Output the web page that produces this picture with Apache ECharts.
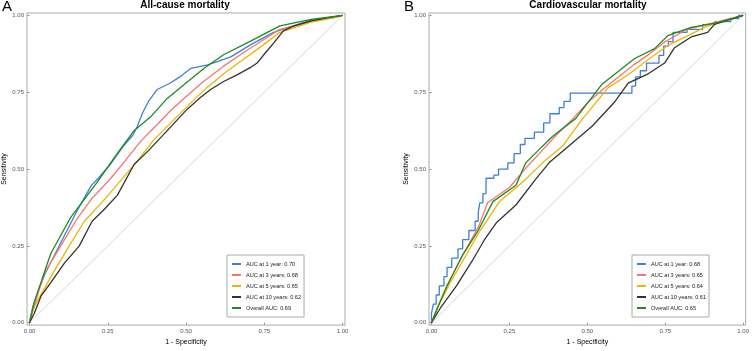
<!DOCTYPE html>
<html><head><meta charset="utf-8">
<script src="https://cdn.jsdelivr.net/npm/echarts@6/dist/echarts.min.js"></script>
<style>html,body{margin:0;padding:0;background:#fff}#c{width:752px;height:351px}</style>
</head><body><div id="c"></div>
<script>
// ---- Panel A: All-cause mortality (points are [1 - specificity, sensitivity]) ----
const panelATitle = 'All-cause mortality';
const panelANames = ['AUC at 1 year: 0.70','AUC at 3 years: 0.68','AUC at 5 years: 0.65','AUC at 10 years: 0.62','Overall AUC: 0.69'];
const a1y = [[0,0],[0.01,0.05],[0.03,0.11],[0.05,0.16],[0.1,0.26],[0.15,0.36],[0.197,0.446],[0.22,0.47],[0.261,0.519],[0.3,0.575],[0.33,0.61],[0.345,0.64],[0.36,0.68],[0.38,0.72],[0.408,0.759],[0.45,0.78],[0.48,0.80],[0.516,0.828],[0.569,0.839],[0.6,0.85],[0.643,0.865],[0.707,0.905],[0.78,0.945],[0.84,0.965],[0.9,0.985],[0.97,0.992],[1,1]];
const a3y = [[0,0],[0.02,0.07],[0.047,0.16],[0.1,0.25],[0.15,0.335],[0.2,0.405],[0.26,0.47],[0.3,0.52],[0.355,0.59],[0.408,0.645],[0.45,0.69],[0.5,0.735],[0.55,0.78],[0.62,0.835],[0.7,0.89],[0.8,0.955],[0.9,0.98],[0.96,0.992],[1,1]];
const a5y = [[0,0],[0.01,0.04],[0.03,0.08],[0.047,0.11],[0.08,0.17],[0.127,0.25],[0.175,0.33],[0.23,0.39],[0.281,0.45],[0.34,0.52],[0.397,0.595],[0.461,0.66],[0.53,0.73],[0.567,0.765],[0.62,0.81],[0.674,0.85],[0.748,0.905],[0.8,0.945],[0.9,0.978],[0.96,0.99],[1,1]];
const a10y = [[0,0],[0.015,0.03],[0.037,0.087],[0.068,0.13],[0.111,0.193],[0.159,0.25],[0.2,0.33],[0.24,0.37],[0.281,0.415],[0.334,0.515],[0.38,0.56],[0.44,0.625],[0.504,0.695],[0.546,0.733],[0.58,0.76],[0.62,0.785],[0.66,0.805],[0.705,0.83],[0.727,0.845],[0.759,0.885],[0.78,0.91],[0.811,0.95],[0.843,0.965],[0.9,0.982],[0.95,0.992],[1,1]];
const aAll = [[0,0],[0.015,0.066],[0.068,0.225],[0.13,0.34],[0.217,0.458],[0.28,0.55],[0.334,0.625],[0.387,0.67],[0.44,0.73],[0.5,0.78],[0.56,0.83],[0.62,0.872],[0.7,0.913],[0.8,0.966],[0.9,0.987],[1,1]];

// ---- Panel B: Cardiovascular mortality ----
const panelBTitle = 'Cardiovascular mortality';
const panelBNames = ['AUC at 1 year: 0.68','AUC at 3 years: 0.65','AUC at 5 years: 0.64','AUC at 10 years: 0.61','Overall AUC: 0.65'];
const b1y = [[0,0],[0,0.03],[0.006,0.03],[0.006,0.06],[0.015,0.06],[0.015,0.09],[0.025,0.09],[0.025,0.12],[0.04,0.12],[0.04,0.15],[0.05,0.15],[0.05,0.18],[0.065,0.18],[0.065,0.21],[0.085,0.21],[0.085,0.24],[0.1,0.24],[0.1,0.27],[0.12,0.27],[0.12,0.3],[0.14,0.3],[0.14,0.33],[0.15,0.33],[0.15,0.36],[0.155,0.36],[0.155,0.39],[0.165,0.39],[0.165,0.42],[0.175,0.42],[0.175,0.47],[0.2,0.47],[0.2,0.48],[0.215,0.48],[0.215,0.5],[0.245,0.5],[0.245,0.52],[0.265,0.52],[0.265,0.55],[0.285,0.55],[0.285,0.58],[0.3,0.58],[0.3,0.6],[0.33,0.6],[0.33,0.62],[0.36,0.62],[0.36,0.65],[0.38,0.65],[0.38,0.68],[0.41,0.68],[0.41,0.7],[0.425,0.7],[0.425,0.72],[0.445,0.72],[0.445,0.747],[0.643,0.747],[0.643,0.77],[0.655,0.77],[0.655,0.8],[0.67,0.8],[0.67,0.82],[0.69,0.82],[0.69,0.845],[0.73,0.845],[0.73,0.87],[0.745,0.87],[0.745,0.9],[0.76,0.9],[0.76,0.915],[0.775,0.915],[0.775,0.945],[0.82,0.945],[0.82,0.955],[0.87,0.955],[0.87,0.97],[0.91,0.97],[0.91,0.98],[0.96,0.98],[0.96,0.99],[0.985,0.99],[0.985,1],[1,1]];
const b3y = [[0,0],[0.02,0.05],[0.05,0.12],[0.1,0.22],[0.15,0.31],[0.18,0.39],[0.25,0.44],[0.3,0.5],[0.35,0.555],[0.4,0.61],[0.45,0.66],[0.5,0.715],[0.55,0.76],[0.6,0.8],[0.65,0.84],[0.7,0.875],[0.75,0.915],[0.82,0.955],[0.9,0.975],[0.95,0.988],[1,1]];
const b5y = [[0,0],[0.02,0.05],[0.06,0.13],[0.1,0.2],[0.15,0.29],[0.218,0.394],[0.293,0.458],[0.357,0.521],[0.42,0.574],[0.482,0.66],[0.567,0.765],[0.631,0.807],[0.7,0.86],[0.758,0.902],[0.886,0.966],[1,1]];
const b10y = [[0,0],[0.03,0.05],[0.08,0.12],[0.13,0.2],[0.17,0.27],[0.208,0.325],[0.271,0.383],[0.335,0.468],[0.378,0.521],[0.452,0.585],[0.516,0.64],[0.589,0.72],[0.631,0.78],[0.695,0.81],[0.748,0.845],[0.78,0.895],[0.833,0.93],[0.886,0.945],[0.908,0.971],[1,1]];
const bAll = [[0,0],[0.02,0.05],[0.05,0.12],[0.1,0.22],[0.15,0.3],[0.197,0.394],[0.271,0.447],[0.303,0.521],[0.346,0.564],[0.388,0.606],[0.463,0.665],[0.546,0.775],[0.652,0.86],[0.716,0.892],[0.758,0.934],[0.833,0.961],[0.918,0.977],[1,1]];

const diag = [[0,0],[1,1]];
const tickVals = [0, 0.25, 0.5, 0.75, 1];
const colors = ['#3D80D8', '#F8766D', '#F0B400', '#333333', '#1E8B1E'];

const chart = echarts.init(document.getElementById('c'), null, {renderer: 'canvas'});
const FONT = 'Liberation Sans, Arial, sans-serif';

function axis(type, gridIndex, name) {
  const isX = type === 'x';
  return {
    type: 'value', gridIndex, min: -0.008, max: 1.008,
    name, nameLocation: 'middle', nameGap: isX ? 13 : 19,
    nameTextStyle: {fontSize: 7, color: '#000', fontFamily: FONT},
    axisLine: {show: false},
    axisTick: {show: true, length: 2, lineStyle: {color: '#888'}, customValues: tickVals},
    axisLabel: {fontSize: 6, color: '#555', margin: 3, fontFamily: FONT,
      customValues: tickVals, formatter: v => v.toFixed(2)},
    splitLine: {show: false}
  };
}

function panelSeries(names, datasets, idx) {
  const out = [{type: 'line', xAxisIndex: idx, yAxisIndex: idx, data: diag, symbol: 'none',
    lineStyle: {color: '#c4c4c4', width: 0.7}, silent: true, z: 1}];
  datasets.forEach((d, i) => {
    out.push({name: names[i], type: 'line', xAxisIndex: idx, yAxisIndex: idx, data: d,
      symbol: 'none', lineStyle: {color: colors[i], width: 1.3}, itemStyle: {color: colors[i]},
      z: 2 + (i === 4 ? 5 : 0)});
  });
  return out;
}

function legend(names, left) {
  return {
    data: names, orient: 'vertical', left, top: 255,
    itemWidth: 9, itemHeight: 2, itemGap: 5, icon: 'rect',
    padding: [6, 3, 6, 5],
    borderColor: '#aaa', borderWidth: 1,
    textStyle: {fontSize: 5.6, color: '#222', fontFamily: FONT, padding: [0, 0, 0, 0]}
  };
}

chart.setOption({
  animation: false,
  grid: [
    {left: 26, top: 13, width: 319, height: 320, show: true, borderColor: '#aaa', borderWidth: 1},
    {left: 429, top: 13, width: 317, height: 320, show: true, borderColor: '#aaa', borderWidth: 1}
  ],
  xAxis: [axis('x', 0, '1 - Specificity'), axis('x', 1, '1 - Specificity')],
  yAxis: [axis('y', 0, 'Sensitivity'), axis('y', 1, 'Sensitivity')],
  legend: [legend(panelANames, 227), legend(panelBNames, 632)],
  graphic: [
    {type: 'text', left: 2, top: -1, style: {text: 'A', fontSize: 15, fill: '#000', fontFamily: FONT}},
    {type: 'text', left: 404, top: -1, style: {text: 'B', fontSize: 15, fill: '#000', fontFamily: FONT}},
    {type: 'text', x: 185, y: 0, style: {text: panelATitle, fontSize: 10, fontWeight: 'bold', fill: '#000', fontFamily: FONT, textAlign: 'center'}},
    {type: 'text', x: 588, y: 0, style: {text: panelBTitle, fontSize: 10, fontWeight: 'bold', fill: '#000', fontFamily: FONT, textAlign: 'center'}}
  ],
  series: [
    ...panelSeries(panelANames, [a1y, a3y, a5y, a10y, aAll], 0),
    ...panelSeries(panelBNames, [b1y, b3y, b5y, b10y, bAll], 1)
  ]
});
</script></body></html>
